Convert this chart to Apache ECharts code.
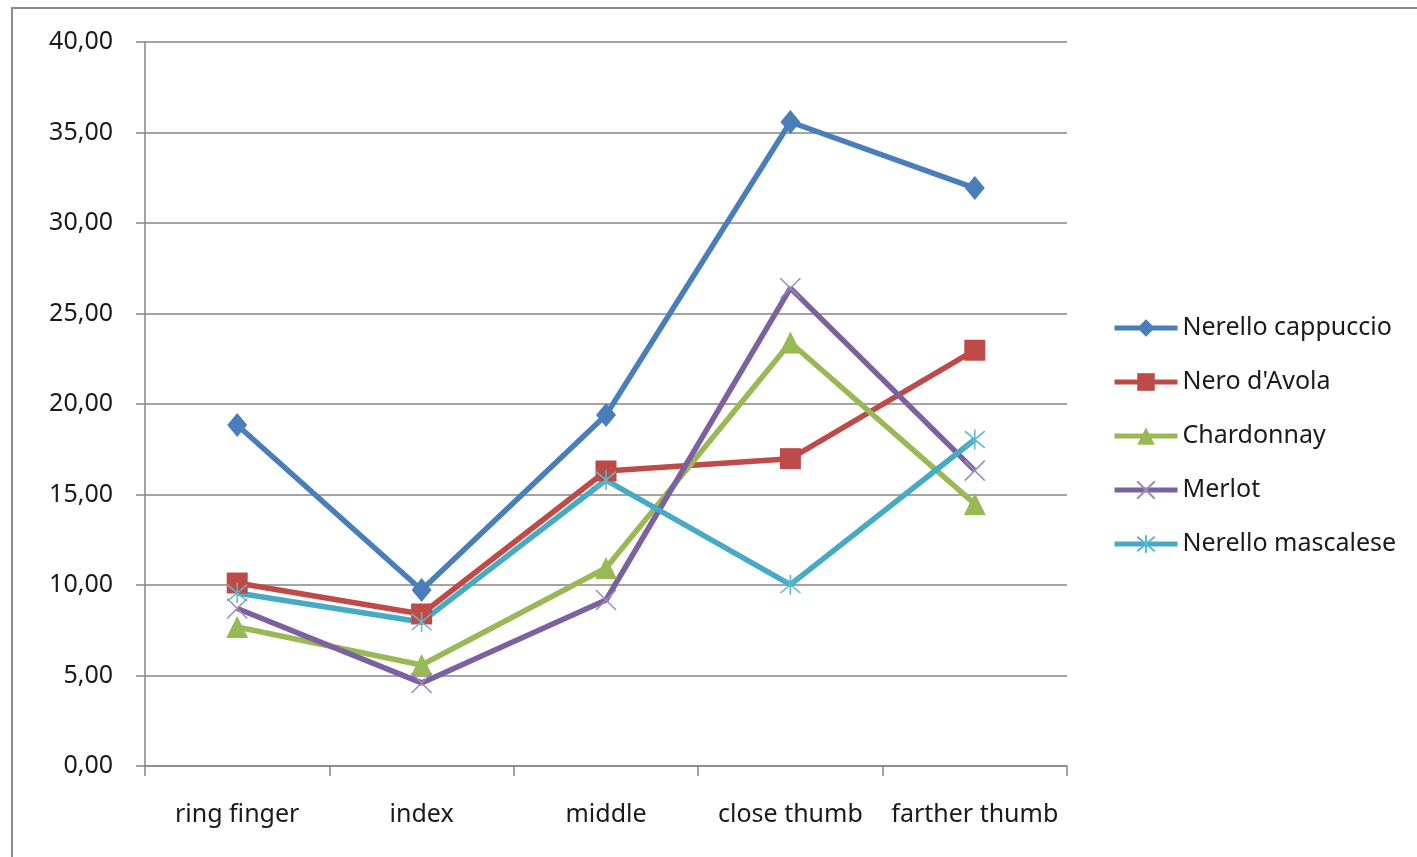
<!DOCTYPE html>
<html>
<head>
<meta charset="utf-8">
<script src="https://cdn.jsdelivr.net/npm/echarts@6/dist/echarts.min.js"></script>
<style>html,body{margin:0;padding:0;background:#fff}#c{width:1417px;height:857px}</style>
</head>
<body>
<div id="c"></div>
<script>
const categories = ['ring finger', 'index', 'middle', 'close thumb', 'farther thumb'];
const nerelloCappuccio = [18.84, 9.72, 19.39, 35.58, 31.93];
const neroDAvola = [10.11, 8.40, 16.30, 16.98, 22.97];
const chardonnay = [7.68, 5.58, 10.94, 23.40, 14.48];
const merlot = [8.70, 4.59, 9.17, 26.40, 16.32];
const nerelloMascalese = [9.56, 7.96, 15.80, 10.02, 18.04];
const yTickLabels = ['0,00', '5,00', '10,00', '15,00', '20,00', '25,00', '30,00', '35,00', '40,00'];

const FONT = 'Noto Sans';
const crossPath = 'path://M0,0L10,10M10,0L0,10';
const starPath = 'path://M0,0L10,10M10,0L0,10M5,-1L5,11';

function mk(name, data, color, symbol, size, extraItem) {
  return {
    name, type: 'line', data,
    symbol, symbolSize: size,
    lineStyle: { color, width: 5.5 },
    itemStyle: Object.assign({ color }, extraItem || {}),
    emphasis: { disabled: true },
    animation: false
  };
}

const chart = echarts.init(document.getElementById('c'));
chart.setOption({
  backgroundColor: '#fff',
  animation: false,
  graphic: [{
    type: 'rect', silent: true,
    shape: { x: 12, y: 8, width: 1440, height: 880 },
    style: { fill: 'none', stroke: '#8a8a8a', lineWidth: 2 }
  }],
  grid: { left: 145, right: 350, top: 42, bottom: 91 },
  legend: {
    orient: 'vertical', left: 1112, top: 313, padding: 0,
    itemWidth: 63, itemHeight: 22, itemGap: 24,
    lineStyle: { width: 5 },
    textStyle: { fontFamily: FONT, fontSize: 25, color: '#1a1a1a', lineHeight: 30, padding: [0, 0, 0, 0] },
    data: ['Nerello cappuccio', "Nero d'Avola", 'Chardonnay', 'Merlot', 'Nerello mascalese']
  },
  xAxis: {
    type: 'category', data: categories, boundaryGap: true,
    axisLine: { lineStyle: { color: '#868686', width: 1.5 } },
    axisTick: { show: true, interval: 0, length: 10, inside: false, lineStyle: { color: '#868686', width: 1.5 } },
    axisLabel: { interval: 0, fontFamily: FONT, fontSize: 25, color: '#1a1a1a', margin: 36 },
    splitLine: { show: false }
  },
  yAxis: {
    type: 'value', min: 0, max: 40, interval: 5,
    axisLine: { show: true, lineStyle: { color: '#868686', width: 1.5 } },
    axisTick: { show: true, length: 9, lineStyle: { color: '#868686', width: 1.5 } },
    axisLabel: {
      fontFamily: FONT, fontSize: 25, color: '#1a1a1a', margin: 32,
      formatter: v => yTickLabels[Math.round(v / 5)]
    },
    splitLine: { show: true, lineStyle: { color: '#868686', width: 1.5 } }
  },
  series: [
    mk('Nerello cappuccio', nerelloCappuccio, '#4A7EBB', 'diamond', [20, 24]),
    mk("Nero d'Avola", neroDAvola, '#BE4B48', 'rect', 21),
    mk('Chardonnay', chardonnay, '#98B954', 'triangle', 22),
    mk('Merlot', merlot, '#7D60A0', crossPath, 20, { borderColor: '#9C8BBE', borderWidth: 1.5, color: 'rgba(0,0,0,0)' }),
    mk('Nerello mascalese', nerelloMascalese, '#46AAC5', starPath, 20, { borderColor: '#5BB8D2', borderWidth: 1.5, color: 'rgba(0,0,0,0)' })
  ]
});
</script>
</body>
</html>
